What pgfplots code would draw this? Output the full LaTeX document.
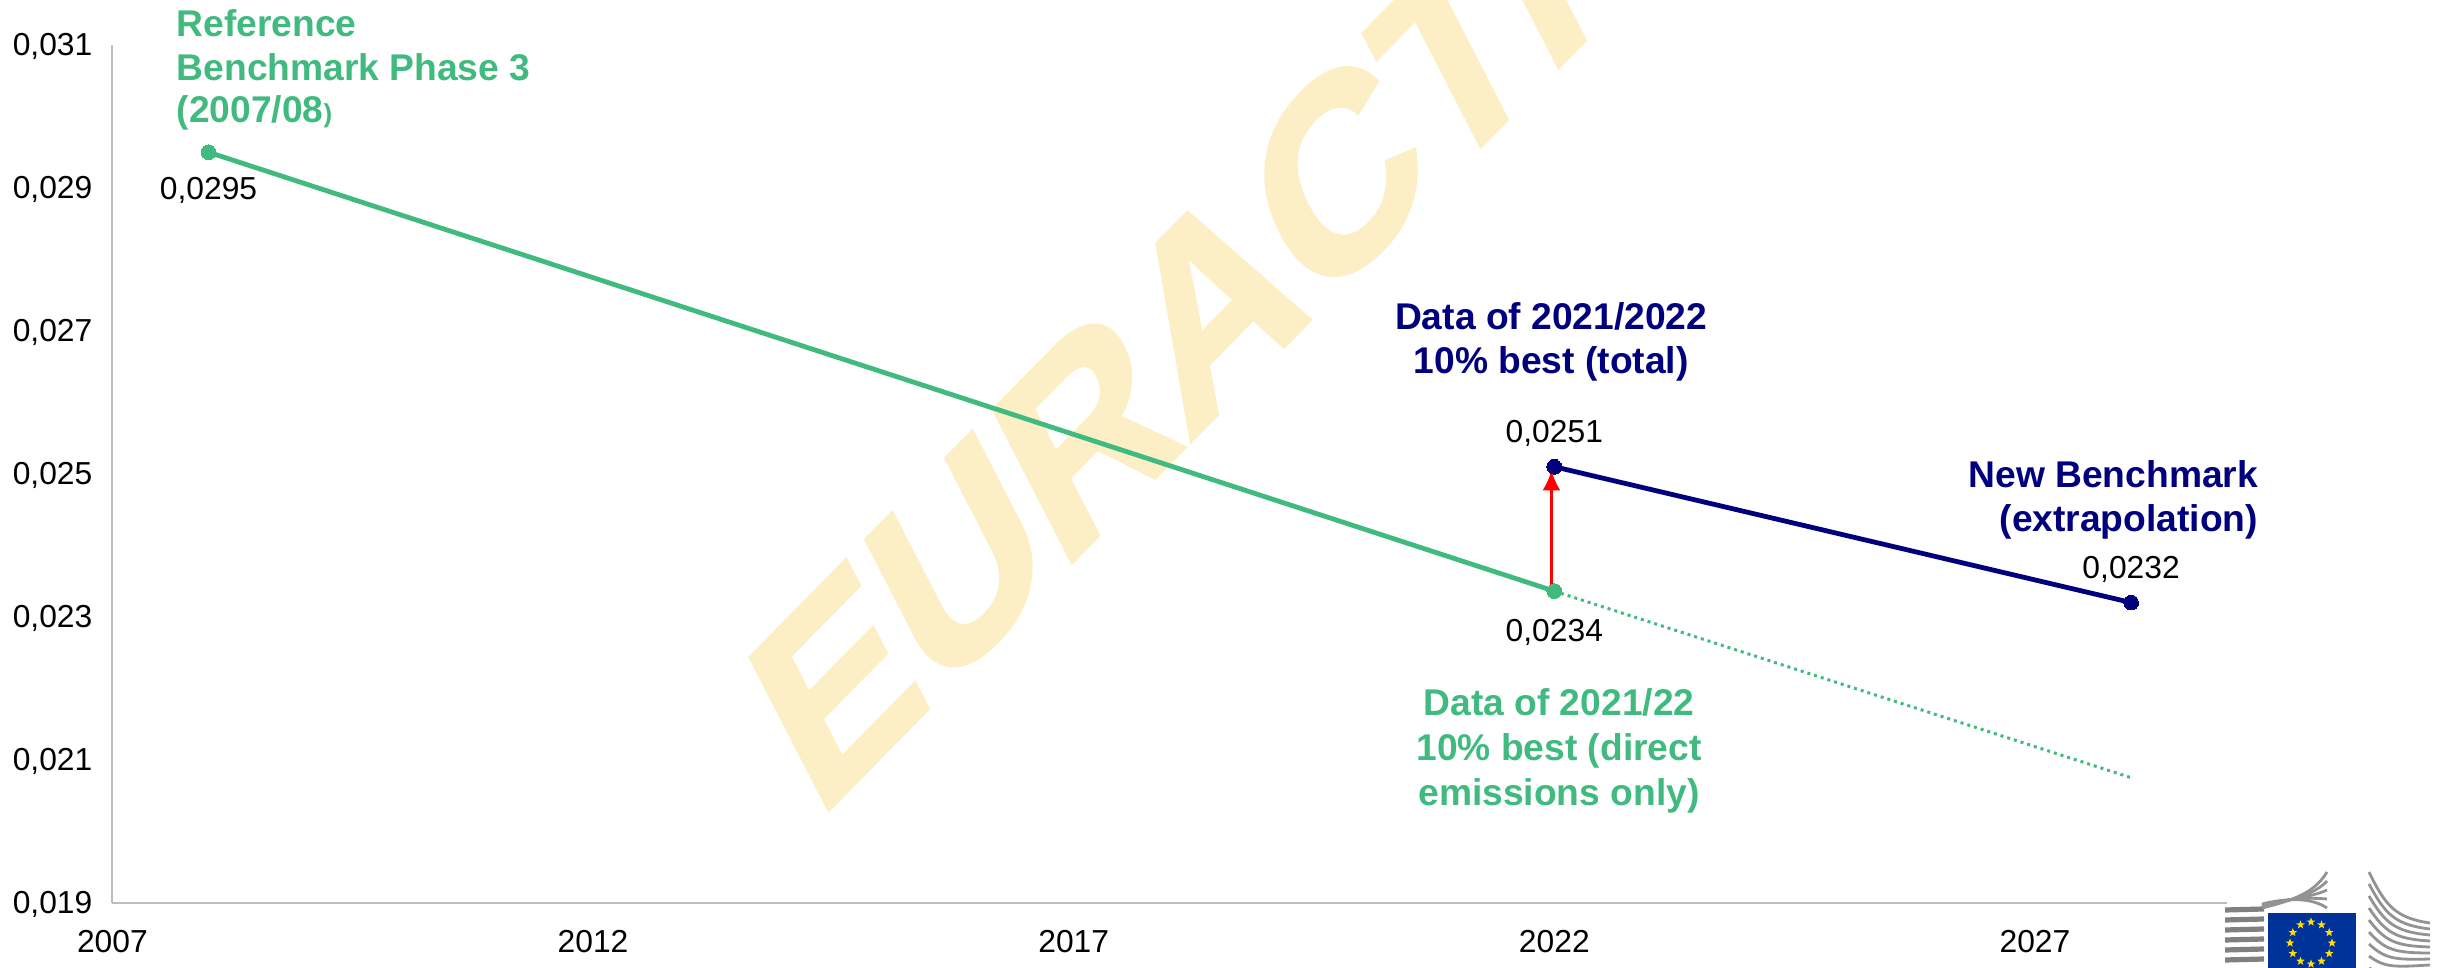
\documentclass[border=0pt]{standalone}
\usepackage{pgfplots}
\pgfplotsset{compat=1.18}
\usepackage{fontspec}
\setmainfont{Liberation Sans}
\newfontfamily\wmfont[FakeBold=2]{Liberation Sans Bold}
\usetikzlibrary{arrows.meta,shapes.geometric}
\definecolor{bmgreen}{HTML}{41BA80}
\definecolor{bmnavy}{HTML}{00007F}
\definecolor{wmark}{HTML}{FCEFC6}
\definecolor{axgray}{HTML}{BDBDBD}
\definecolor{eublue}{HTML}{003399}
\definecolor{eustar}{HTML}{FFDD00}
\newcommand{\lab}{\fontsize{15.9}{19}\selectfont}
\newcommand{\blab}{\fontsize{18.6}{22.3}\selectfont\bfseries}
\begin{document}
\begin{tikzpicture}
\useasboundingbox (0,0) rectangle (1223.5pt,484pt);
% watermark
\begin{scope}
\clip (0,0) rectangle (1223.5pt,484pt);
\begin{scope}[shift={(408.5pt,73.5pt)},rotate=45.5,xslant=0.33,yscale=0.94]
\node[anchor=base west,inner sep=0pt,transform shape,text=wmark,font=\wmfont\fontsize{125}{125}\selectfont] at (0,0) {EURACTIV};
\end{scope}
\end{scope}
\begin{axis}[
  at={(56.2pt,32.6pt)},anchor=south west,
  scale only axis,width=1057.4pt,height=428.9pt,
  xmin=2007,xmax=2029,ymin=0.019,ymax=0.031,
  axis y line*=left,axis x line*=bottom,
  axis line style={axgray,line width=1pt,-},
  clip=false,
  scaled y ticks=false,
  xtick={2007,2012,2017,2022,2027},
  xticklabels={2007,2012,2017,2022,2027},
  ytick={0.019,0.021,0.023,0.025,0.027,0.029,0.031},
  yticklabels={0{,}019,0{,}021,0{,}023,0{,}025,0{,}027,0{,}029,0{,}031},
  major tick length=0pt,
  tick label style={font=\lab,text=black},
  yticklabel style={xshift=-6.5pt,yshift=-0.8pt},
  xticklabel style={yshift=-10pt},
]
\addplot[bmgreen,line width=1.5pt,dotted,forget plot] coordinates {(2022,0.02336) (2028,0.02075)};
\addplot[bmgreen,line width=2.4pt,mark=*,mark size=3.7pt,mark options={solid,fill=bmgreen,draw=bmgreen,line width=0pt}] coordinates {(2008,0.0295) (2022,0.02336)};
\addplot[bmnavy,line width=2.4pt,mark=*,mark size=3.7pt,mark options={solid,fill=bmnavy,draw=bmnavy,line width=0pt}] coordinates {(2022,0.0251) (2028,0.0232)};
\addplot[red,line width=1.5pt,-{Latex[length=10pt,width=9pt]}] coordinates {(2021.97,0.02336) (2021.97,0.02505)};
\node[font=\lab] at (axis cs:2008,0.02897) {0,0295};
\node[font=\lab] at (axis cs:2022,0.02556) {0,0251};
\node[font=\lab] at (axis cs:2022,0.02278) {0,0234};
\node[font=\lab] at (axis cs:2028,0.02366) {0,0232};
\end{axis}
% coloured annotations, positions in page points
\node[anchor=west,inner sep=0pt,text=bmgreen,font=\blab] at (88.2pt,472.3pt) {Reference};
\node[anchor=west,inner sep=0pt,text=bmgreen,font=\blab] at (88.2pt,450.4pt) {Benchmark Phase 3};
\node[anchor=west,inner sep=0pt,text=bmgreen,font=\blab] at (88.2pt,427.7pt) {(2007/08{\fontsize{13}{13}\selectfont)}};
\node[align=center,inner sep=0pt,text=bmnavy,font=\blab] at (775.6pt,313pt) {Data of 2021/2022\\10\% best (total)};
\node[align=right,inner sep=0pt,anchor=east,text=bmnavy,font=\blab] at (1129.2pt,234pt) {New Benchmark\\(extrapolation)};
\node[align=center,inner sep=0pt,text=bmgreen,font=\blab] at (779.5pt,108.6pt) {Data of 2021/22\\10\% best (direct\\emissions only)};
% logo
\begin{scope}[x=0.5pt,y=-0.5pt,shift={(0,484pt)}]
\begin{scope}
\clip (2225,860) rectangle (2447,968);
\foreach \i in {0,1,2,3,4,5}{
  \draw[gray,line width=2.6pt] (2225,{910+\i*10}) -- (2264,{909+\i*10});
}
\foreach \i in {0,1,2,3,4}{
  \draw[gray!85,line width=1.4pt] (2262,{908-\i*1}) .. controls (2295,{900-\i}) and (2315,{892+\i*2}) .. (2327,{872+\i*9});
}
\foreach \i in {0,1,2,3,4,5,6,7,8}{
  \draw[gray!85,line width=1.4pt] (2369,{872+\i*12}) .. controls (2385,{905+\i*9}) and (2395,{918+\i*7}) .. (2430,{923+\i*6});
}
\end{scope}
\fill[eublue] (2268,913) rectangle (2356,968);
\foreach \a in {0,30,...,330}{
  \node[star,star points=5,star point ratio=2.4,fill=eustar,inner sep=0pt,minimum size=4.5pt] at ({2311+21*cos(\a)},{943+21*sin(\a)}) {};
}
\end{scope}
\end{tikzpicture}
\end{document}
